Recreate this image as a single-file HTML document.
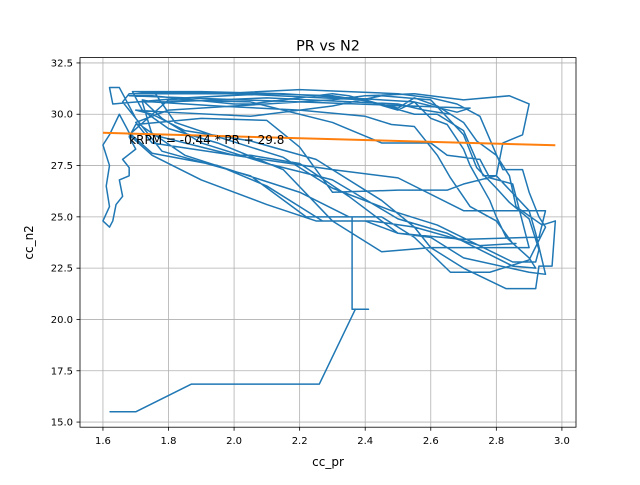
<!DOCTYPE html>
<html><head><meta charset="utf-8"><style>
body{margin:0;background:#fff;font-family:"Liberation Sans","DejaVu Sans",sans-serif}
svg text{font-family:"DejaVu Sans","Liberation Sans",sans-serif}
</style></head><body>
<svg id="c" width="640" height="480" xmlns="http://www.w3.org/2000/svg"></svg>
<script>
const xTicks=[1.6,1.8,2.0,2.2,2.4,2.6,2.8,3.0];
const xTickLabels=["1.6","1.8","2.0","2.2","2.4","2.6","2.8","3.0"];
const yTicks=[15,17.5,20,22.5,25,27.5,30,32.5];
const yTickLabels=["15.0","17.5","20.0","22.5","25.0","27.5","30.0","32.5"];
const prValues=[1.62,1.70,1.87,2.26,2.37,2.41,2.36,2.36,2.35,2.2,1.85,1.72,1.66,1.68,1.95,2.2,2.5,2.6,2.68,2.75,2.82,2.88,2.9,2.93,2.95,2.90,2.78,2.66,2.55,2.45,2.22,2.05,1.78,1.70,1.65,1.62,1.63,1.85,2.1,2.3,2.42,2.5,2.55,2.62,2.7,2.74,2.80,2.84,2.86,2.94,2.98,2.97,2.93,2.92,2.83,2.7,2.6,2.55,2.42,2.27,2.1,1.95,1.75,1.68,1.65,1.62,1.60,1.62,1.61,1.62,1.60,1.62,1.63,1.64,1.66,1.65,1.68,1.68,1.66,1.70,1.68,1.70,1.9,2.1,2.2,2.3,2.5,2.65,2.7,2.8,2.82,2.88,2.9,2.84,2.7,2.55,2.4,2.3,2.0,1.8,1.7,1.75,2.0,2.3,2.5,2.7,2.95,2.93,2.9,2.7,2.5,2.4,2.25,2.1,1.9,1.75,1.68,1.8,2.05,2.3,2.45,2.6,2.65,2.75,2.78,2.85,2.9,2.6,2.45,2.3,2.15,1.95,1.8,1.72,1.69,1.9,2.15,2.35,2.55,2.68,2.72,
1.68,1.75,2.0,2.05,2.3,2.35,2.5,2.55,2.6,2.65,2.7,2.72,2.78,2.8,2.83,2.9,2.92,2.85,2.65,2.5,2.3,2.1,1.9,1.78,1.72,1.75,1.95,2.2,2.4,2.48,2.55,2.62,2.66,2.72,2.8,2.85,2.86,2.75,2.55,2.45,2.25,2.05,1.85,1.75,1.7,1.8,2.05,2.3,2.45,2.6,2.7,2.74,2.8,2.84,2.9,2.93,2.92,2.85,2.62,2.48,2.3,2.15,1.95,1.82,1.76,1.7,2.0,2.4,2.55,2.62,2.7,2.76,2.8,2.9,2.92,2.95,2.9,2.7,2.6,2.5,2.35,2.2,2.05,2.0,1.75,1.72,1.8,2.1,2.5,2.58,2.66,2.7];
const n2Values=[15.5,15.5,16.85,16.85,20.5,20.5,20.5,25.0,25.0,26.2,28.0,29.4,30.6,31.0,31.0,31.2,31.0,30.8,30.5,29.9,27.3,27.3,26.2,25.0,24.5,22.9,22.3,22.3,24.0,25.0,25.0,27.0,28.2,29.8,31.3,31.3,30.5,30.8,31.0,30.9,30.6,30.3,30.8,30.4,29.6,28.7,28.0,27.0,25.5,24.6,24.8,22.6,22.6,21.5,21.5,22.5,23.5,24.5,24.8,24.8,26.5,27.5,28.1,29.1,30.0,29.0,28.5,27.5,26.5,25.5,24.8,24.5,24.8,25.6,26.0,26.8,27.0,27.4,27.8,28.3,28.9,29.5,29.8,29.7,28.4,26.2,26.3,26.3,26.6,27.0,28.6,29.0,30.5,30.9,30.7,31.0,30.9,30.7,30.4,30.2,29.6,28.6,28.0,27.3,26.9,25.3,25.3,24.0,24.0,23.9,24.2,24.8,24.8,25.6,26.8,28.0,29.0,30.7,30.6,29.6,28.6,28.6,28.0,27.8,26.9,26.6,23.5,23.5,23.3,24.8,27.3,28.6,29.3,30.2,31.1,31.1,31.0,30.8,30.6,30.1,
30.3,30.9,30.9,30.5,30.5,31.0,30.9,30.2,30.6,29.8,29.5,28.3,27.5,25.8,25.0,24.0,23.0,22.5,22.6,24.2,24.9,26.8,27.6,28.6,29.8,30.7,30.6,30.4,30.2,29.9,29.5,29.4,28.0,26.9,25.5,24.8,23.7,23.7,23.6,24.5,25.8,27.8,28.7,29.2,30.0,30.2,30.1,29.9,30.4,30.9,30.7,29.0,27.4,26.4,25.7,24.9,23.4,22.8,22.8,24.6,25.3,26.4,27.9,28.9,29.6,31.0,31.1,31.0,30.7,30.0,30.0,29.2,27.0,27.0,25.3,24.2,22.2,22.3,23.0,24.0,24.2,26.0,27.6,28.0,28.0,29.0,30.6,30.6,30.8,30.5,30.2,30.0];
const fitSlope=-0.44, fitIntercept=29.8;
const fitX=[1.6,2.98];

const svg=document.getElementById('c');const NS='http://www.w3.org/2000/svg';
const L=80,R=576,T=57.6,B=427.2;
const xMin=1.53,xMax=3.043,yMin=14.75,yMax=32.76;
const X=v=>L+(v-xMin)/(xMax-xMin)*(R-L);
const Y=v=>B-(v-yMin)/(yMax-yMin)*(B-T);
function el(t,a,p){const e=document.createElementNS(NS,t);for(const k in a)e.setAttribute(k,a[k]);(p||svg).appendChild(e);return e;}
const grid=el('g',{});


xTicks.forEach((v,i)=>{
 const x=X(v);
 el('line',{x1:x,x2:x,y1:T,y2:B,stroke:'#b0b0b0','stroke-width':0.8},grid);
 el('line',{x1:x,x2:x,y1:B,y2:B+3.5,stroke:'#000','stroke-width':0.8});
 const t=el('text',{x:x,y:B+17,'font-size':10,'text-anchor':'middle'});t.textContent=xTickLabels[i];
 
 
});
yTicks.forEach((v,i)=>{
 const y=Y(v);
 el('line',{x1:L,x2:R,y1:y,y2:y,stroke:'#b0b0b0','stroke-width':0.8},grid);
 el('line',{x1:L-3.5,x2:L,y1:y,y2:y,stroke:'#000','stroke-width':0.8});
 const t=el('text',{x:L-7,y:y+3.5,'font-size':10,'text-anchor':'end'});t.textContent=yTickLabels[i];
 
 
});
const line=el('polyline',{points:prValues.map((v,i)=>X(v)+','+Y(n2Values[i])).join(' '),fill:'none',stroke:'#1f77b4','stroke-width':1.5,'stroke-linejoin':'round'});


const fit=el('line',{x1:X(fitX[0]),y1:Y(fitSlope*fitX[0]+fitIntercept),x2:X(fitX[1]),y2:Y(fitSlope*fitX[1]+fitIntercept),stroke:'#ff7f0e','stroke-width':2});


const eq=el('text',{x:X(1.68),y:Y(28.75)+4,'font-size':12});eq.textContent='kRPM = -0.44 * PR + 29.8';


const fr=el('rect',{x:L,y:T,width:R-L,height:B-T,fill:'none',stroke:'#000','stroke-width':0.8});


const ti=el('text',{x:(L+R)/2,y:T-7,'font-size':14.4,'text-anchor':'middle'});ti.textContent='PR vs N2';


const xl=el('text',{x:(L+R)/2,y:466,'font-size':12,'text-anchor':'middle'});xl.textContent='cc_pr';


const yl=el('text',{x:0,y:0,'font-size':12,'text-anchor':'middle',transform:'translate(33,'+((T+B)/2)+') rotate(-90)'});yl.textContent='cc_n2';


</script>
</body></html>
